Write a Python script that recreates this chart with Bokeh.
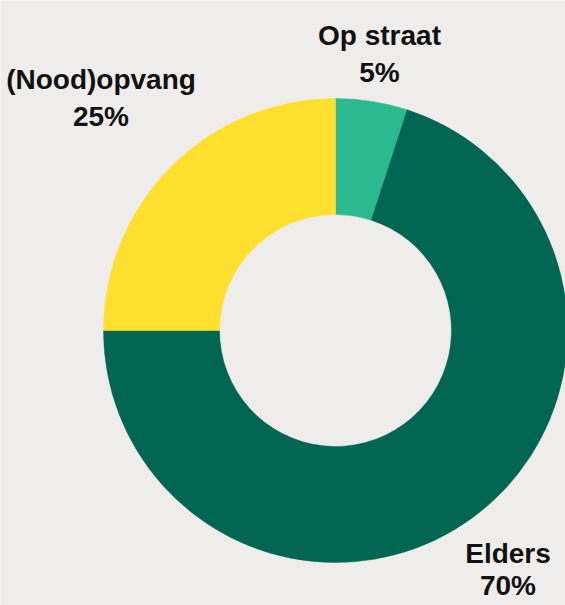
import math
from bokeh.plotting import figure
from bokeh.models import ColumnDataSource, Range1d
from bokeh.embed import file_html
from bokeh.resources import INLINE
from bokeh.core.properties import value

# ---- data ----
categories = ["Op straat", "Elders", "(Nood)opvang"]
shares = [5, 70, 25]
colors = ["#2BB98F", "#006652", "#FFE02E"]

# ---- layout ----
W, H = 565, 605
BG = "#EFEDEB"
CX, CY = 335, 275
R_OUT, R_IN = 232, 116
# label anchor points (centre x, baseline of first and second line)
label_order = ["Op straat", "(Nood)opvang", "Elders"]
label_x = [379, 100.5, 507.5]
label_y1 = [570.5, 526.5, 52.5]
label_y2 = [533.5, 489.5, 20.5]

total = float(sum(shares))
starts, ends = [], []
cum = 0.0
for v in shares:
    a0 = math.pi / 2 - 2 * math.pi * cum / total
    cum += v
    a1 = math.pi / 2 - 2 * math.pi * cum / total
    starts.append(a0)
    ends.append(a1)

src = ColumnDataSource(dict(cat=categories, share=shares, color=colors,
                            start=starts, end=ends))

p = figure(width=W, height=H, x_range=Range1d(0, W), y_range=Range1d(0, H),
           output_backend="svg", toolbar_location=None,
           x_axis_location=None, y_axis_location=None, min_border=0,
           background_fill_color=BG, border_fill_color=BG,
           outline_line_color=None)
p.grid.visible = False

p.annular_wedge(x=CX, y=CY, inner_radius=R_IN, outer_radius=R_OUT,
                start_angle="start", end_angle="end", direction="clock",
                fill_color="color", line_color="color", line_width=0.5,
                source=src)

share_of = dict(zip(categories, shares))
names = label_order
pcts = [f"{share_of[c]}%" for c in label_order]
lsrc = ColumnDataSource(dict(x=label_x, y1=label_y1, y2=label_y2, name=names, pct=pcts))
for col, ycol in (("name", "y1"), ("pct", "y2")):
    p.text(x="x", y=ycol, text=col, source=lsrc,
           text_font=value("Liberation Sans"), text_font_style="bold",
           text_font_size="28px", text_color="#111111",
           text_align="center", text_baseline="alphabetic")

open("out.html", "w").write(file_html(p, INLINE))
